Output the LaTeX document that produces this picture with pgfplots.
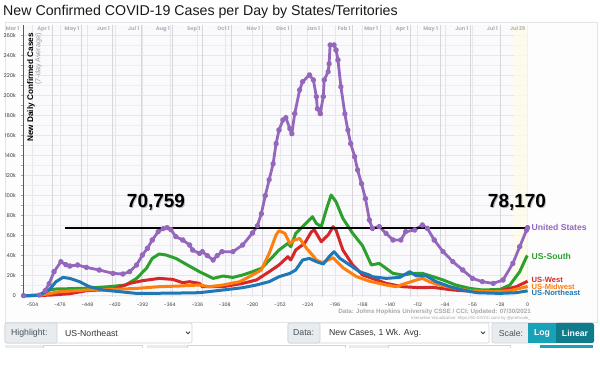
\documentclass[border=0pt]{standalone}
\usepackage{pgfplots}
\pgfplotsset{compat=1.18}
\usepackage{fontspec}
\setmainfont{Liberation Sans}
\newfontfamily\pop{Poppins}
\definecolor{usPurple}{HTML}{9467BD}
\definecolor{usGreen}{HTML}{2CA02C}
\definecolor{usRed}{HTML}{D62728}
\definecolor{usOrange}{HTML}{FF7F0E}
\definecolor{usBlue}{HTML}{1F77B4}
\definecolor{framebg}{HTML}{FDFDFE}
\definecolor{framebd}{HTML}{E4E4E8}
\definecolor{plotbg}{HTML}{FAFAFD}
\definecolor{monthgrid}{HTML}{D6D6DB}
\definecolor{tickgrid}{HTML}{E6E6EC}
\definecolor{hgrid}{HTML}{F0ECF2}
\definecolor{ticktext}{HTML}{3A3A3A}
\definecolor{monthtext}{HTML}{B3B3B7}
\definecolor{srcgray}{HTML}{A8A8A8}
\definecolor{uitext}{HTML}{495057}
\definecolor{uilabel}{HTML}{E9ECEF}
\definecolor{uiborder}{HTML}{CED4DA}
\definecolor{tealA}{HTML}{17A2B8}
\definecolor{tealB}{HTML}{117A8B}
\newcommand{\mlab}[2]{\node[anchor=east, inner sep=0pt, font=\pop\bfseries\fontsize{5.2}{6}\selectfont, text=monthtext] at (axis cs:#1,266.7) {#2};}
\begin{document}
\begin{tikzpicture}[x=1pt,y=1pt]
\useasboundingbox (0,0) rectangle (600,388);
\fill[white] (0,0) rectangle (600,388);
\node[anchor=base west, inner sep=0pt, font=\fontsize{14.2}{16}\selectfont, text=black!90] at (3,372) {New Confirmed COVID-19 Cases per Day by States/Territories};
\filldraw[fill=framebg, draw=framebd, line width=0.8pt] (5,66) rectangle (597,366);

\begin{axis}[
  at={(24,91)}, anchor=south west,
  scale only axis, width=504pt, height=272pt,
  xmin=-513, xmax=0, ymin=-1.3, ymax=270.7,
  clip=false,
  axis background/.style={fill=plotbg},
  separate axis lines,
  x axis line style={draw=none},
  y axis line style={draw=gray!70!black, line width=1pt},
  xtick pos=bottom, ytick pos=left,
  xtick={-504,-476,-448,-420,-392,-364,-336,-308,-280,-252,-224,-196,-168,-140,-112,-84,-56,-28,0},
  xticklabels={-504,-476,-448,-420,-392,-364,-336,-308,-280,-252,-224,-196,-168,-140,-112,-84,-56,-28,0},
  xtick style={draw=none},
  xticklabel style={font=\pop\fontsize{4.8}{5}\selectfont, text=ticktext, anchor=center, inner sep=0pt, yshift=-5pt},
  ytick={0,20,40,60,80,100,120,140,160,180,200,220,240,260},
  yticklabels={0,20k,40k,60k,80k,100k,120k,140k,160k,180k,200k,220k,240k,260k},
  yticklabel style={font=\pop\fontsize{5.2}{6}\selectfont, text=ticktext, anchor=east, inner sep=0pt, xshift=-4.5pt},
  ytick style={draw=gray!70, line width=0.6pt},
  major tick length=3pt, tick align=outside,
  minor y tick num=1,
  xmajorgrids, ymajorgrids, yminorgrids,
  major grid style={tickgrid, line width=0.6pt},
  minor grid style={hgrid, line width=0.5pt},
  extra x ticks={-484,-454,-423,-393,-362,-331,-301,-270,-240,-209,-178,-150,-119,-89,-58,-28,0},
  extra x tick labels={},
  extra x tick style={grid=major, major grid style={monthgrid, line width=0.8pt}, tick style={draw=none}},
]
\fill[yellow!10, opacity=0.7] (axis cs:-14,-1.3) rectangle (axis cs:0,270.7);

\mlab{-517}{Mar 1}
\mlab{-486}{Apr 1}
\mlab{-456}{May 1}
\mlab{-425}{Jun 1}
\mlab{-395}{Jul 1}
\mlab{-364}{Aug 1}
\mlab{-333}{Sep 1}
\mlab{-303}{Oct 1}
\mlab{-272}{Nov 1}
\mlab{-242}{Dec 1}
\mlab{-211}{Jan 1}
\mlab{-180}{Feb 1}
\mlab{-152}{Mar 1}
\mlab{-121}{Apr 1}
\mlab{-91}{May 1}
\mlab{-60}{Jun 1}
\mlab{-30}{Jul 1}
\mlab{-2}{Jul 29}

% United States
\addplot[usPurple, line width=2.8pt, line join=round, mark=*, mark size=1.55pt, mark options={draw=none, fill=usPurple}] coordinates {
(-513,0)(-497,0.5)(-491,5)(-487,12)(-482,24)(-475,34)(-470,31)(-466,29.7)(-458,30.7)(-449,28.3)(-436,25.7)(-422,22.3)(-412,21.7)(-405,24)(-398,30.7)(-392,40.7)(-387,47.3)(-382,55.7)(-376,64)(-371,67)(-367,68)(-363,66)(-358,59)(-351,55.7)(-344,50.7)(-341,45.7)(-334,42.3)(-331,44)(-326,40)(-320,35.7)(-316,40)(-311,44)(-300,44)(-290,50.7)(-280,62.7)(-275,70)(-271,82)(-267,100)(-263,116)(-259,132)(-256,152)(-253,165.7)(-249,175.7)(-246,178)(-242,167)(-240,162)(-237,182)(-232,205.7)(-229,214)(-222,220.7)(-218,215.7)(-215,199)(-214,187)(-211,182)(-208,199)(-207,215.7)(-203,224)(-202,232)(-201,250.7)(-197,250.7)(-195,245.7)(-193,235.7)(-190,209)(-186,182)(-183,165.7)(-180,152)(-176,139)(-173,125.7)(-169,112)(-165,97)(-161,75.7)(-158,67.3)(-151,69)(-144,62.3)(-137,55.7)(-129,55.7)(-124,64)(-115,65.7)(-107,70.7)(-102,67.3)(-95,55.7)(-86,44)(-76,34)(-66,25.7)(-56,17.3)(-46,14)(-35,12.3)(-25,15.7)(-15,32.3)(-8,49)(-1,65.7)(0,68)
};
% US-South
\addplot[usGreen, line width=3pt, line join=round] coordinates {
(-513,0)(-497,0.5)(-487,5.7)(-480,6.7)(-466,7)(-449,7.5)(-426,9)(-409,10.7)(-398,17.3)(-388,27.3)(-382,37.3)(-375,41.7)(-368,40.7)(-358,37.3)(-348,31.7)(-334,24)(-320,17.3)(-310,19.7)(-300,18.3)(-290,20.7)(-280,24)(-271,27.3)(-261,37.3)(-253,45.7)(-244,52.3)(-241,49)(-236,62.3)(-229,69)(-219,79)(-215,72.3)(-210,69)(-205,85.7)(-200,100.7)(-195,94)(-188,77.3)(-178,62.3)(-168,50)(-159,30.7)(-151,32.3)(-144,27.3)(-137,22.3)(-127,20.7)(-117,22.3)(-107,22.3)(-96,19)(-86,15.7)(-73,10.7)(-59,7.3)(-46,5.7)(-28,6.3)(-18,10.7)(-8,24)(-1,39)(0,40)
};
% US-West
\addplot[usRed, line width=3pt, line join=round] coordinates {
(-513,0)(-487,0.5)(-466,2)(-449,5)(-422,6.3)(-405,12.3)(-392,15)(-375,17.3)(-361,16.3)(-351,13)(-344,14)(-334,12.3)(-331,9)(-310,9)(-290,12.3)(-276,15.7)(-263,24)(-253,30.7)(-244,39)(-241,35.7)(-236,45.7)(-227,52.3)(-220,64)(-217,65.7)(-210,54)(-203,60.7)(-198,69)(-195,65.7)(-188,45.7)(-178,30.7)(-171,24)(-168,20.7)(-158,17.3)(-144,12.3)(-127,9)(-110,8)(-96,8.3)(-76,5.7)(-52,4)(-29,4.7)(-11.5,9)(-1,14)(0,14.5)
};
% US-Midwest
\addplot[usOrange, line width=3pt, line join=round] coordinates {
(-513,0)(-497,0.5)(-487,2)(-477,4)(-449,5.7)(-422,6.3)(-398,7.3)(-375,9)(-354,9.7)(-334,10.7)(-324,9)(-310,10.7)(-293,14)(-280,20.7)(-271,25.7)(-263,42.3)(-256,60.7)(-253,65)(-247,62.3)(-242,52.3)(-237,55.7)(-232,57.3)(-225,47.3)(-219,40.7)(-215,35.7)(-209,33)(-198,38)(-188,28)(-174,19)(-161,14.5)(-144,10.7)(-134,9)(-124,12.3)(-113,15.7)(-107,17.3)(-100,14)(-90,10.7)(-76,8)(-59,5)(-35,4)(-18,5)(-1,9)(0,9.5)
};
% US-Northeast
\addplot[usBlue, line width=3pt, line join=round] coordinates {
(-513,0)(-497,0.3)(-487,5.7)(-480,14)(-473,18.3)(-466,17.3)(-456,14)(-446,9)(-432,5.7)(-415,4)(-398,2.3)(-365,2.5)(-334,3)(-310,5.7)(-290,8)(-276,10.7)(-263,14)(-253,19)(-242,22.3)(-236,25.7)(-229,35.7)(-222,37.3)(-215,34)(-208,31.7)(-202,39)(-197,44)(-191,37.3)(-181,30.7)(-171,24)(-161,20.7)(-158,19)(-144,17.3)(-130,18.3)(-120,24)(-113,19.7)(-103,19.7)(-93,14)(-79,9)(-66,5.7)(-52,3)(-28.5,2.3)(-11.5,3)(-1,4.7)(0,5)
};
% reference line
\addplot[black, line width=1.8pt] coordinates {(-471,68) (-3,68)};
\end{axis}

% y-axis title
\node[rotate=90, anchor=north east, inner sep=0pt, font=\bfseries\fontsize{8.2}{9}\selectfont] at (27,355) {New Daily Confirmed Cases};
\node[rotate=90, anchor=north east, inner sep=0pt, font=\fontsize{7.2}{8}\selectfont, text=gray!80] at (35,355) {(7-day Average)};

% annotations
\node[font=\bfseries\fontsize{19}{20}\selectfont, text=black!45, opacity=0.55] at (157,184.3) {70,759};
\node[font=\bfseries\fontsize{19}{20}\selectfont, text=black] at (156,185.5) {70,759};
\node[font=\bfseries\fontsize{19}{20}\selectfont, text=black!45, opacity=0.55] at (518,184.3) {78,170};
\node[font=\bfseries\fontsize{19}{20}\selectfont, text=black] at (517,185.5) {78,170};

% series labels
\node[anchor=west, inner sep=0pt, font=\bfseries\fontsize{8.6}{9}\selectfont, text=usPurple] at (531.5,160.3) {United States};
\node[anchor=west, inner sep=0pt, font=\bfseries\fontsize{8.6}{9}\selectfont, text=usGreen] at (531.5,132) {US-South};
\node[anchor=base west, inner sep=0pt, font=\bfseries\fontsize{7.6}{8}\selectfont, text=usRed] at (531.5,105.4) {US-West};
\node[anchor=base west, inner sep=0pt, font=\bfseries\fontsize{7.6}{8}\selectfont, text=usOrange] at (531.5,98.8) {US-Midwest};
\node[anchor=base west, inner sep=0pt, font=\bfseries\fontsize{7.6}{8}\selectfont, text=usBlue] at (531.5,92.2) {US-Northeast};

% source
\node[anchor=east, inner sep=0pt, font=\bfseries\fontsize{6.2}{7}\selectfont, text=srcgray] at (531,76.5) {Data: Johns Hopkins University CSSE / CCI; Updated: 07/30/2021};
\node[anchor=east, inner sep=0pt, font=\fontsize{4.2}{5}\selectfont, text=srcgray] at (531,69.5) {Interactive Visualization: https://91-DIVOC.com/ by @profwade\_};

% UI controls
\filldraw[fill=white, draw=uiborder, line width=0.6pt, rounded corners=2pt] (5,45) rectangle (192,65);
\filldraw[fill=uilabel, draw=uiborder, line width=0.6pt, rounded corners=2pt] (5,45) rectangle (57,65);
\node[anchor=west, inner sep=0pt, font=\fontsize{8.7}{9}\selectfont, text=uitext] at (11,55) {Highlight:};
\node[anchor=west, inner sep=0pt, font=\fontsize{8.7}{9}\selectfont, text=black!80] at (65,55) {US-Northeast};
\draw[black!75, line width=0.8pt] (186,56.3) -- (188,54.3) -- (190,56.3);

\filldraw[fill=white, draw=uiborder, line width=0.6pt, rounded corners=2pt] (288,45) rectangle (489,65);
\filldraw[fill=uilabel, draw=uiborder, line width=0.6pt, rounded corners=2pt] (288,45) rectangle (320,65);
\node[anchor=west, inner sep=0pt, font=\fontsize{8.7}{9}\selectfont, text=uitext] at (293,55) {Data:};
\node[anchor=west, inner sep=0pt, font=\fontsize{8.7}{9}\selectfont, text=black!80] at (329,55) {New Cases, 1 Wk. Avg.};
\draw[black!75, line width=0.8pt] (481,56.3) -- (483,54.3) -- (485,56.3);

\filldraw[fill=uilabel, draw=uiborder, line width=0.6pt, rounded corners=2pt] (492,45) rectangle (530,65);
\node[inner sep=0pt, font=\fontsize{8.7}{9}\selectfont, text=uitext] at (511,55) {Scale:};
\fill[tealA] (528,45) rectangle (556,65);
\fill[tealB, rounded corners=2pt] (556,45) rectangle (594,65);
\fill[tealB] (556,45) rectangle (560,65);
\node[inner sep=0pt, font=\bfseries\fontsize{8.7}{9}\selectfont, text=white] at (542,55) {Log};
\node[inner sep=0pt, font=\bfseries\fontsize{8.7}{9}\selectfont, text=white] at (575,55) {Linear};

% partially visible next row
\fill[uilabel] (5,40) rectangle (43,42.5);
\filldraw[fill=white, draw=uiborder, line width=0.5pt] (43,40) -- (43,42.5) -- (142,42.5) -- (142,40);
\fill[uilabel] (147,40) rectangle (187,42.5);
\filldraw[fill=white, draw=uiborder, line width=0.5pt] (187,40) -- (187,42.5) -- (345,42.5) -- (345,40);
\fill[uilabel] (349,40) rectangle (388,42.5);
\filldraw[fill=white, draw=uiborder, line width=0.5pt] (388,40) -- (388,42.5) -- (510,42.5) -- (510,40);
\fill[tealA] (540,40) rectangle (593,42.5);
\end{tikzpicture}
\end{document}
